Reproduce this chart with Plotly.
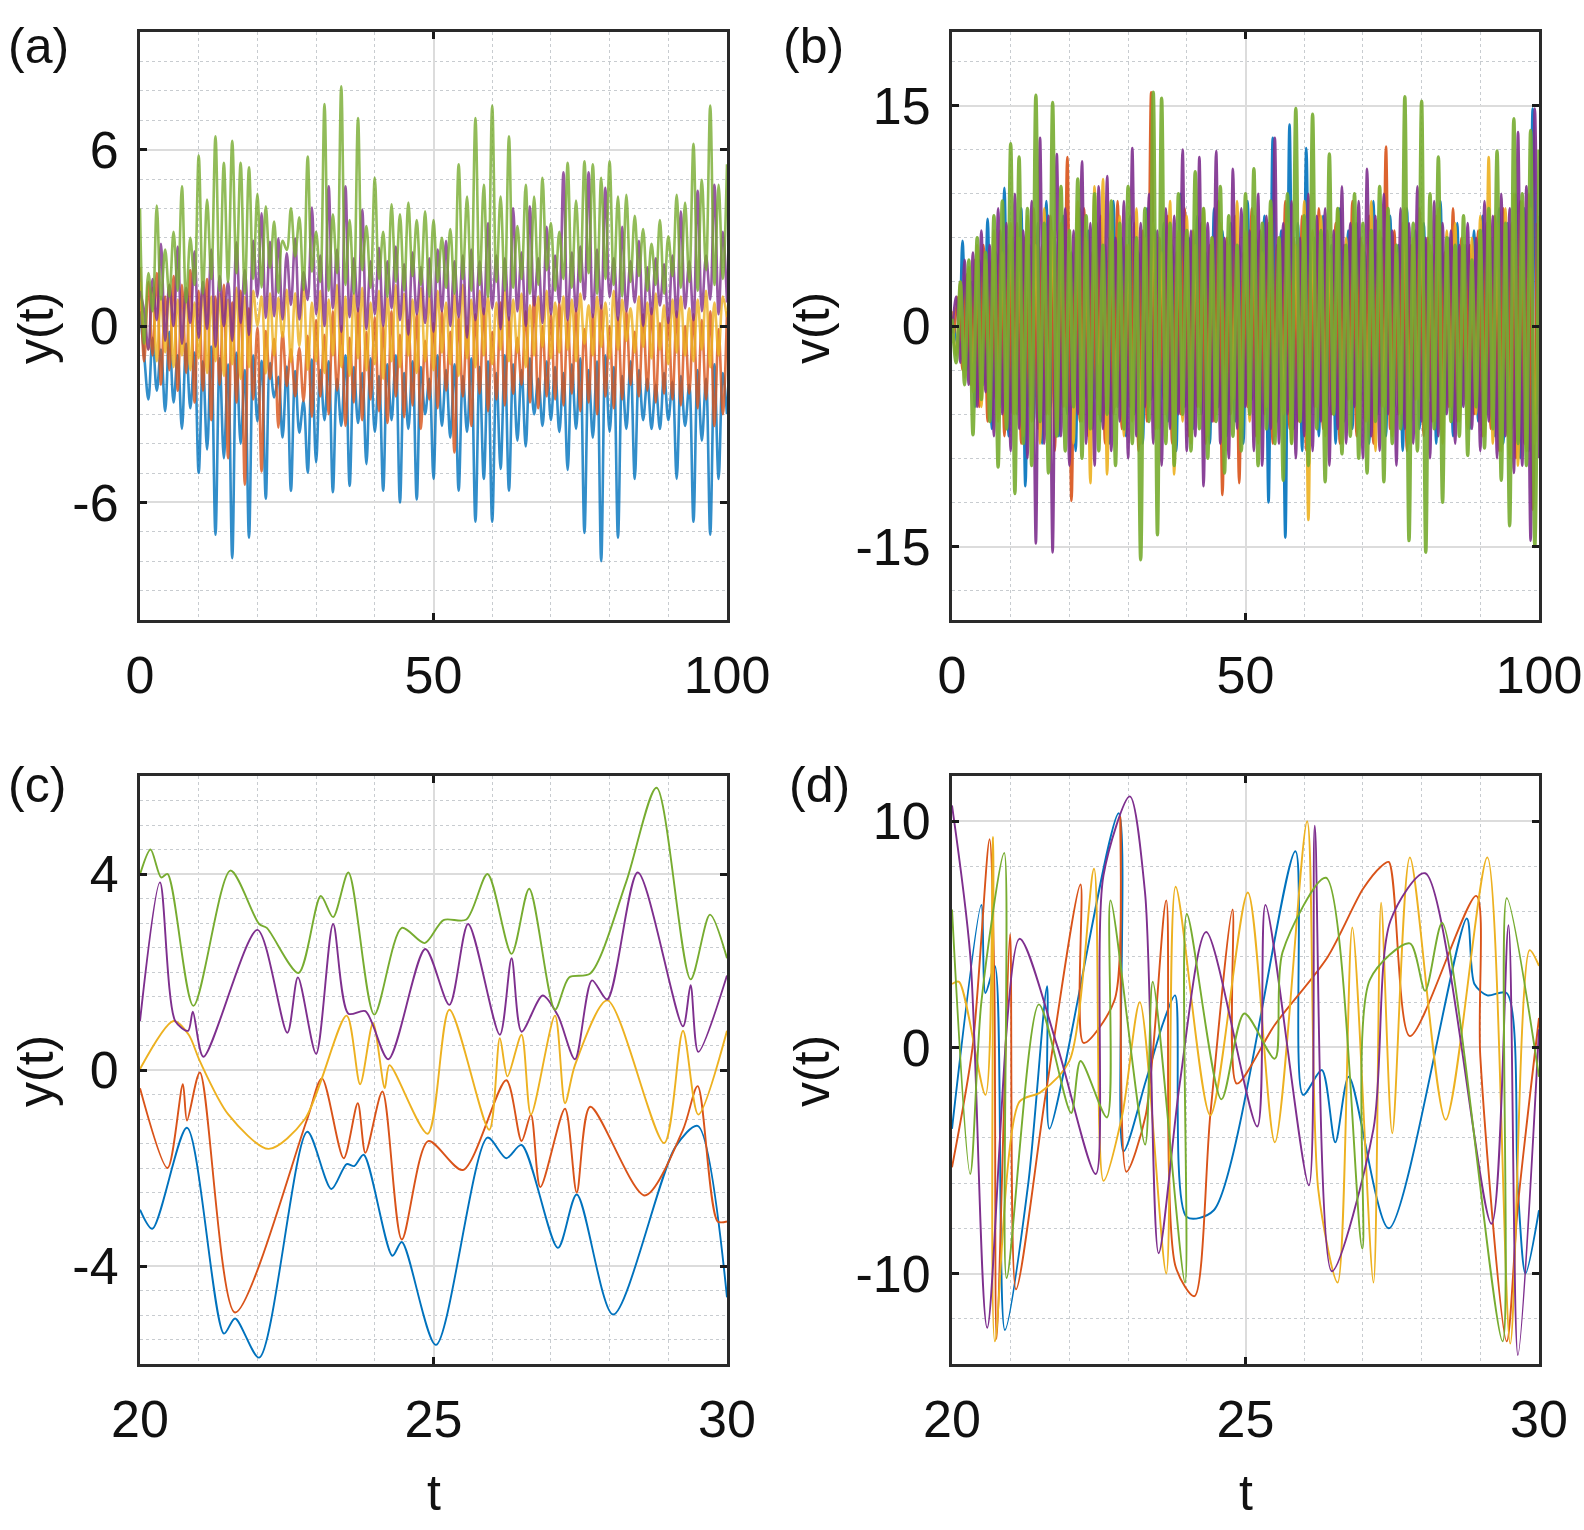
import numpy as np
import plotly.graph_objects as go

# MATLAB default line colours
COLORS = {"blue": "#0072BD", "orange": "#D95319", "yellow": "#EDB120",
          "purple": "#7E2F8E", "green": "#77AC30"}
ORDER = ["blue", "orange", "yellow", "purple", "green"]

# Panels (a) and (b): extrema, one peak/trough pair every ~1.43 time units.
# *_hi / *_lo are the alternating maxima / minima; STEP is the spacing between them.
STEP = 100 / 140

# ---------------- panel (a): y(t) ----------------
green_a_hi = [4.0, 1.8, 4.1, 2.6, 3.2, 4.75, 3.0, 5.8, 4.3, 6.45,
              5.55, 6.3, 5.55, 5.4, 4.5, 4.07, 3.55, 2.9, 4.0, 3.7,
              5.76, 3.2, 7.55, 3.8, 8.15, 3.6, 7.07, 3.4, 5.04, 3.2,
              4.14, 3.8, 4.2, 3.6, 3.9, 3.6, 3.0, 3.3, 5.5, 4.4,
              7.07, 4.8, 7.5, 4.4, 6.45, 3.4, 4.8, 4.4, 5.04, 3.5,
              3.2, 5.55, 4.27, 5.6, 5.5, 5.04, 5.6, 4.4, 4.46, 3.75,
              3.3, 2.8, 3.6, 3.05, 4.46, 4.2, 6.2, 4.97, 7.5, 4.8,
              5.5]
green_a_lo = [-0.6, 0.5, 0.9, 1.0, 1.2, 0.8, 1.4, 1.1, 1.6, 1.2,
              1.5, 1.8, 1.1, 1.6, 1.31, 1.98, 1.13, 2.59, 2.37, 1.23,
              1.85, 1.5, 1.2, 1.8, 1.4, 1.1, 1.9, 1.3, 1.6, 1.0,
              1.5, 1.2, 1.7, 1.4, 1.0, 1.5, 1.3, 1.1, 1.6, 1.2,
              1.4, 1.0, 1.5, 1.2, 1.3, 1.6, 1.1, 1.4, 1.9, 1.2,
              1.6, 1.3, 1.5, 1.8, 1.1, 1.6, 1.4, 1.0, 1.5, 1.7,
              1.2, 1.4, 1.1, 1.7, 1.3, 1.5, 1.2, 1.9, 1.4, 1.6]

purple_a_lo = [1.2, -0.8, 0.2, -0.5, 0.0, -0.6, 0.1, -0.4, -0.1, -0.7,
               0.0, -0.5, 0.1, -0.3, 1.0, 0.27, 0.33, 0.22, 0.72, 0.22,
               0.89, 0.4, 0.0, 0.6, -0.2, 0.3, 0.5, -0.1, 0.4, 0.0,
               0.6, 0.2, -0.3, 0.4, 0.1, -0.2, 0.5, 0.0, 0.3, -0.4,
               0.2, 0.4, 0.6, -0.1, 0.2, 0.5, 0.0, 0.7, 0.1, 0.4,
               0.8, 0.2, 0.5, 0.9, 0.3, 0.6, 1.0, 0.2, 0.5, 0.8,
               0.0, 0.4, 0.7, 0.1, 0.3, 0.6, 0.2, 0.5, 0.9, 0.4,
               0.8]
purple_a_hi = [0.5, 1.6, 2.8, 1.4, 2.7, 1.3, 2.53, 1.5, 2.6, 1.7,
               1.5, 2.85, 1.9, 2.9, 3.83, 2.86, 2.98, 2.47, 2.98, 1.83,
               4.03, 2.4, 4.75, 2.6, 4.75, 2.3, 3.95, 2.2, 2.66, 2.2,
               2.7, 2.1, 2.5, 2.0, 2.3, 2.6, 2.9, 2.2, 2.4, 2.6,
               2.2, 3.5, 2.4, 2.3, 4.0, 2.5, 4.07, 2.3, 3.37, 2.4,
               5.23, 2.5, 2.7, 5.23, 2.6, 4.7, 2.3, 3.37, 2.2, 2.9,
               2.0, 2.3, 2.1, 2.4, 3.9, 2.2, 4.6, 2.4, 4.8, 3.2]

blue_a_lo = [0.5, -2.5, -2.2, -2.9, -2.6, -3.5, -2.8, -5.0, -4.2, -7.1,
             -4.5, -7.9, -4.0, -7.2, -3.24, -5.87, -2.43, -3.79, -5.61, -3.63,
             -4.99, -4.64, -3.2, -5.65, -3.4, -5.44, -3.3, -4.7, -3.6, -5.6,
             -3.2, -6.0, -3.5, -5.9, -3.0, -5.2, -3.4, -3.8, -5.6, -3.6,
             -6.66, -5.2, -6.66, -4.86, -5.6, -3.9, -4.1, -3.0, -3.4, -3.2,
             -3.6, -4.9, -3.5, -7.04, -3.8, -8.0, -3.6, -7.2, -3.5, -5.2,
             -3.2, -3.5, -3.5, -3.2, -5.2, -3.4, -6.66, -3.9, -7.1, -5.2,
             -3.0]
blue_a_hi = [-1.0, -0.4, -0.8, -0.2, -1.0, -0.6, -0.9, -1.2, -0.7, -1.1,
             -1.3, -0.9, -1.5, -1.0, -1.18, -1.26, -1.73, -1.38, -1.53, -2.54,
             -1.14, -1.5, -1.2, -1.8, -1.0, -1.4, -1.6, -1.1, -1.7, -1.3,
             -1.0, -1.6, -1.2, -1.4, -1.8, -1.0, -1.5, -1.3, -1.7, -1.1,
             -1.4, -1.2, -1.6, -1.0, -1.3, -1.5, -1.1, -1.8, -1.2, -1.4,
             -1.6, -1.3, -1.1, -1.5, -1.2, -1.0, -1.4, -1.7, -1.2, -1.5,
             -1.8, -2.0, -1.6, -1.9, -1.7, -2.0, -1.5, -1.8, -1.3, -1.6]

orange_a_hi = [2.0, 1.5, 1.8, 1.0, 1.7, 1.4, 1.9, 1.2, 1.6, 1.0,
               1.4, 0.8, 1.2, 0.6, -0.05, -0.17, -0.44, -0.21, -0.79, -0.75,
               -0.33, 0.2, -0.3, 0.5, 0.0, -0.4, 0.6, -0.2, 0.3, 0.0,
               0.5, -0.3, 0.2, 0.4, -0.5, 0.1, 0.5, -0.2, 0.3, 0.0,
               0.4, 0.6, -0.2, 0.8, 0.3, -0.4, 0.5, 1.0, 0.0, 0.4,
               0.8, 0.2, 0.6, -0.1, 0.4, 0.7, 0.0, 0.3, 0.5, -0.2,
               0.4, 0.6, 0.1, 0.3, 0.5, 0.0, 0.4, 0.2, 0.5, -0.1,
               0.5]
orange_a_lo = [-1.2, -1.0, -2.0, -1.5, -2.2, -1.6, -2.6, -2.2, -3.2, -2.0,
               -4.5, -2.6, -5.4, -2.5, -4.95, -1.8, -3.46, -2.04, -2.39, -2.56,
               -3.09, -2.4, -3.0, -2.2, -3.4, -2.6, -3.2, -2.5, -2.9, -3.3,
               -2.4, -3.1, -2.7, -3.5, -2.5, -2.8, -2.2, -4.3, -2.4, -3.4,
               -2.3, -2.9, -2.5, -2.7, -2.3, -2.0, -2.6, -2.8, -2.4, -2.5,
               -2.7, -2.3, -2.9, -2.6, -3.0, -2.4, -2.8, -2.5, -2.0, -2.4,
               -2.2, -2.6, -2.3, -2.5, -2.7, -2.3, -2.8, -2.5, -3.4, -3.0]

yellow_a_lo = [1.5, -0.8, -1.2, -0.9, -1.4, -1.0, -1.5, -1.1, -1.6, -1.2,
               -1.7, -1.3, -1.8, -1.4, 0.02, -1.61, -1.0, -0.37, -1.22, -0.68,
               -1.49, -1.2, -1.6, -1.0, -1.4, -1.7, -1.1, -1.5, -1.3, -1.8,
               -1.2, -1.4, -1.0, -1.6, -1.2, -1.5, -0.9, -1.3, -1.7, -1.1,
               -1.4, -1.0, -1.3, -0.8, -1.2, -0.9, -1.4, -1.0, -0.7, -1.1,
               -0.9, -0.8, -1.2, -0.6, -1.0, -0.7, -1.1, -0.8, -0.5, -0.9,
               -0.7, -1.1, -0.8, -1.3, -0.9, -1.0, -1.2, -0.8, -1.4, -1.0,
               0.3]
yellow_a_hi = [-0.2, 1.3, 1.0, 1.4, 0.9, 1.2, 0.8, 1.3, 1.0, 1.1,
               0.9, 1.3, 1.0, 1.2, 1.0, 1.11, 0.96, 1.23, 1.11, 1.42,
               0.8, 1.2, 0.9, 1.4, 1.0, 1.1, 1.3, 0.8, 1.2, 1.0,
               1.4, 1.1, 0.9, 1.3, 1.0, 1.2, 0.8, 1.1, 1.4, 0.9,
               1.2, 1.0, 0.8, 1.2, 0.9, 1.1, 0.7, 1.0, 1.2, 0.8,
               1.0, 0.9, 1.1, 0.7, 1.0, 0.8, 1.2, 0.9, 0.6, 1.0,
               0.8, 1.1, 0.7, 0.9, 1.0, 0.6, 0.9, 1.2, 0.8, 1.0]

# ---------------- panel (b): v(t) ----------------
green_b_hi = [0.5, 3.0, 4.5, 6.0, 5.0, 7.5, 8.5, 12.4, 11.5, 8.0,
              15.7, 7.0, 15.2, 9.5, 6.5, 10.0, 7.5, 9.0, 5.5, 8.5,
              7.0, 9.5, 6.0, 8.0, 15.9, 15.5, 7.0, 9.0, 6.5, 10.5,
              8.0, 6.0, 9.5, 7.5, 5.5, 9.0, 10.7, 7.0, 8.5, 6.0,
              9.0, 14.8, 7.5, 14.4, 6.5, 11.7, 8.0, 5.5, 9.0, 7.0,
              6.5, 9.5, 8.0, 5.5, 15.6, 7.0, 15.3, 9.0, 11.5, 6.0,
              5.5, 7.5, 4.5, 6.5, 8.0, 11.9, 7.0, 14.1, 9.0, 13.3,
              12.0]
green_b_lo = [-2.5, -4.0, -7.4, -5.0, -6.5, -9.6, -7.0, -11.4, -8.0, -9.5,
              -6.5, -10.0, -7.5, -8.5, -5.5, -9.0, -7.0, -8.5, -6.0, -9.5,
              -7.0, -8.0, -15.9, -6.5, -14.2, -8.0, -9.5, -6.0, -8.5, -7.0,
              -9.0, -6.5, -10.0, -7.5, -8.5, -6.0, -9.5, -7.0, -8.0, -10.5,
              -8.0, -6.5, -9.5, -7.0, -10.6, -6.0, -8.7, -7.5, -9.0, -10.0,
              -6.5, -10.6, -8.0, -7.0, -14.6, -8.5, -15.4, -7.0, -12.0, -6.5,
              -7.5, -8.8, -5.5, -8.3, -7.0, -10.5, -13.6, -8.0, -9.5, -15.0]

purple_b_lo = [-0.5, -2.5, -4.0, -5.5, -4.5, -7.5, -6.0, -8.5, -7.0, -9.0,
               -14.8, -8.0, -15.4, -7.5, -9.5, -6.0, -8.0, -9.5, -7.0, -8.5,
               -6.5, -9.0, -7.5, -5.5, -8.0, -9.5, -7.0, -6.0, -8.5, -7.5,
               -10.9, -6.5, -8.0, -9.0, -7.0, -5.5, -8.5, -9.5, -7.0, -8.0,
               -6.0, -9.0, -7.5, -8.5, -6.5, -9.5, -7.0, -8.0, -5.5, -9.0,
               -7.5, -8.5, -6.0, -9.5, -7.0, -8.0, -6.5, -9.0, -7.5, -6.0,
               -8.0, -5.5, -7.0, -8.5, -6.5, -9.0, -7.5, -10.0, -9.5, -14.6,
               -9.0]
purple_b_hi = [2.0, 4.5, 5.0, 6.5, 5.5, 8.0, 7.0, 9.0, 6.5, 8.5,
               12.8, 7.5, 11.7, 8.0, 6.5, 11.2, 7.0, 9.5, 10.2, 6.0,
               8.5, 12.1, 7.0, 9.0, 6.5, 8.0, 7.5, 12.0, 6.5, 11.5,
               7.0, 11.9, 6.0, 10.7, 8.0, 6.5, 9.0, 7.5, 12.8, 7.0,
               8.5, 6.0, 9.0, 7.5, 8.0, 6.5, 9.5, 7.0, 8.5, 10.7,
               7.5, 9.0, 6.5, 8.0, 7.0, 9.5, 6.0, 8.5, 7.0, 6.5,
               5.5, 7.0, 6.0, 8.5, 7.5, 9.0, 8.0, 13.2, 9.5, 14.8]

yellow_b_hi = [1.0, 3.0, 4.0, 5.5, 4.5, 6.5, 5.0, 7.0, 6.0, 7.5,
               5.5, 8.0, 6.5, 7.0, 5.0, 8.5, 6.0, 9.5, 10.0, 6.5,
               7.5, 5.5, 8.0, 6.0, 7.0, 5.0, 8.5, 6.5, 7.5, 5.5,
               8.0, 6.0, 7.0, 5.5, 8.5, 6.5, 7.5, 5.0, 8.0, 6.0,
               7.0, 5.5, 8.5, 6.5, 7.5, 5.0, 8.0, 6.0, 7.0, 5.5,
               8.5, 6.5, 7.5, 5.0, 8.0, 6.0, 7.0, 5.5, 8.0, 6.5,
               7.0, 5.5, 6.0, 7.5, 11.5, 7.0, 8.0, 9.0, 8.5, 8.0,
               7.5]
yellow_b_lo = [-2.0, -3.5, -4.5, -5.5, -5.0, -6.5, -7.0, -6.0, -7.5, -6.5,
               -8.0, -6.0, -7.5, -5.5, -8.0, -6.5, -10.7, -6.0, -10.1, -5.5,
               -7.5, -6.5, -8.0, -5.5, -7.0, -6.0, -10.1, -6.5, -8.0, -5.5,
               -7.5, -6.0, -8.5, -5.0, -7.0, -6.5, -8.0, -5.5, -7.5, -6.0,
               -8.0, -6.5, -13.2, -5.5, -7.5, -6.0, -8.0, -5.0, -7.0, -6.5,
               -8.5, -5.5, -7.5, -6.0, -8.0, -5.0, -7.0, -6.5, -8.0, -5.5,
               -6.5, -7.0, -6.0, -7.5, -8.0, -8.5, -9.0, -9.5, -8.5, -8.0]

# blue and orange (b) sit half a step later (t = 0.36, 1.07, ...)
blue_b_hi = [0.0, 5.8, 3.0, 4.5, 7.3, 5.0, 9.4, 6.0, 8.0, 5.5,
             7.0, 8.5, 6.0, 7.5, 5.0, 8.0, 6.5, 7.0, 5.5, 8.5,
             6.0, 7.5, 5.0, 8.0, 6.5, 7.0, 5.5, 9.0, 6.0, 7.5,
             5.0, 8.0, 6.5, 7.0, 5.5, 8.5, 6.0, 7.5, 12.8, 6.5,
             13.7, 7.0, 12.1, 6.0, 7.5, 5.5, 8.0, 6.5, 7.0, 5.0,
             8.5, 6.0, 7.5, 5.5, 8.0, 6.5, 7.0, 5.0, 8.5, 6.0,
             7.0, 5.5, 6.5, 7.5, 6.0, 8.0, 7.0, 9.0, 8.0, 14.8]
blue_b_lo = [-1.5, -3.0, -5.5, -4.0, -7.0, -5.5, -7.5, -6.0, -10.9, -6.5,
             -8.0, -5.5, -7.5, -6.0, -8.5, -5.0, -7.0, -6.5, -8.0, -5.5,
             -7.5, -6.0, -8.0, -5.0, -7.0, -6.5, -8.5, -5.5, -7.0, -6.0,
             -8.0, -5.5, -7.5, -6.5, -8.0, -5.0, -7.0, -12.0, -6.5, -14.4,
             -7.0, -8.5, -6.0, -7.5, -5.5, -8.0, -6.5, -7.0, -5.0, -8.0,
             -6.0, -7.5, -5.5, -8.5, -6.5, -7.0, -5.0, -8.0, -6.0, -7.5,
             -5.5, -7.0, -6.5, -6.0, -7.5, -8.0, -7.0, -9.0, -8.5, -6.0]

orange_b_lo = [-0.5, -3.0, -4.0, -5.5, -6.5, -5.0, -7.5, -6.0, -8.0, -5.5,
               -7.0, -6.0, -8.5, -5.5, -11.9, -6.5, -7.5, -5.0, -8.0, -6.0,
               -7.0, -5.5, -8.5, -6.5, -7.0, -5.0, -8.0, -6.0, -7.5, -5.5,
               -8.0, -6.5, -11.5, -6.0, -10.7, -5.5, -7.5, -6.0, -8.0, -5.0,
               -7.0, -6.5, -8.5, -5.5, -7.0, -6.0, -8.0, -5.0, -7.5, -6.5,
               -8.0, -5.5, -7.0, -6.0, -8.5, -5.0, -7.5, -6.5, -7.0, -5.5,
               -6.5, -5.0, -6.0, -7.5, -7.0, -8.5, -7.5, -9.0, -8.0, -12.5]
orange_b_hi = [2.0, 3.5, 4.5, 5.5, 4.5, 6.5, 5.5, 7.0, 6.0, 8.0,
               5.5, 7.5, 6.5, 11.5, 6.0, 8.0, 5.0, 7.5, 6.0, 8.5,
               5.5, 7.0, 6.5, 15.9, 6.0, 7.5, 5.0, 8.0, 6.5, 7.0,
               5.5, 8.5, 6.0, 7.5, 5.0, 8.0, 6.5, 7.0, 5.5, 8.5,
               6.0, 7.5, 5.0, 8.0, 6.5, 7.0, 5.5, 8.5, 6.0, 7.5,
               5.0, 12.2, 6.5, 7.0, 5.5, 8.0, 6.0, 7.5, 5.0, 8.0,
               6.0, 5.5, 6.5, 7.0, 7.5, 8.0, 7.0, 8.5, 9.0, 7.0]

# ---------------- panel (c): y(t), 20..30 ----------------
blue_c_t = [20.0, 20.21, 20.8, 21.43, 21.62, 22.03, 22.85, 23.26, 23.52, 23.65, 23.81, 24.3,
            24.46, 25.04, 25.92, 26.24, 26.5, 27.12, 27.44, 28.06, 29.12, 29.5, 30.0]
blue_c_v = [-2.85, -3.24, -1.18, -5.38, -5.07, -5.87, -1.26, -2.43, -1.92, -1.96, -1.73, -3.79,
            -3.51, -5.61, -1.38, -1.8, -1.53, -3.63, -2.54, -4.99, -1.57, -1.14, -4.64]
orange_c_t = [20.0, 20.47, 20.73, 20.8, 21.02, 21.62, 22.84, 23.1, 23.47, 23.71, 23.84, 24.13,
              24.46, 24.91, 25.5, 26.24, 26.5, 26.66, 26.82, 27.24, 27.44, 27.67, 28.6, 29.25,
              29.5, 29.84, 30.0]
orange_c_v = [-0.37, -2.0, -0.29, -1.03, -0.05, -4.95, -1.03, -0.17, -1.8, -0.68, -1.69, -0.44,
              -3.46, -1.45, -2.04, -0.21, -1.45, -0.91, -2.39, -0.79, -2.5, -0.75, -2.56, -1.22,
              -0.33, -3.09, -3.09]
yellow_c_t = [20.0, 20.57, 20.83, 21.02, 21.5, 22.19, 22.81, 23.52, 23.75, 23.97, 24.17, 24.25,
              24.9, 25.27, 25.95, 26.13, 26.26, 26.5, 26.66, 27.07, 27.24, 27.41, 27.96, 28.93,
              29.25, 29.51, 30.0]
yellow_c_v = [0.02, 1.0, 0.72, 0.18, -0.9, -1.61, -1.0, 1.11, -0.29, 0.96, -0.37, 0.1,
              -1.3, 1.23, -1.22, 0.65, -0.13, 0.72, -0.91, 1.11, -0.68, 0.1, 1.42, -1.49,
              0.8, -0.91, 0.8]
purple_c_t = [20.0, 20.34, 20.6, 20.82, 20.9, 21.08, 22.0, 22.51, 22.69, 23.0, 23.29, 23.55,
              23.84, 24.23, 24.86, 25.27, 25.59, 26.13, 26.33, 26.5, 26.86, 27.12, 27.41, 27.7,
              27.96, 28.48, 29.25, 29.38, 29.51, 30.0]
purple_c_v = [1.0, 3.83, 1.0, 0.8, 1.19, 0.27, 2.86, 0.76, 1.89, 0.33, 2.98, 1.15,
              1.2, 0.22, 2.47, 1.33, 2.98, 0.72, 2.28, 0.78, 1.52, 1.11, 0.22, 1.83,
              1.44, 4.03, 0.89, 1.73, 0.37, 1.93]
green_c_t = [20.0, 20.18, 20.36, 20.47, 20.91, 21.54, 22.03, 22.16, 22.7, 23.08, 23.29, 23.55,
             23.99, 24.46, 24.85, 25.17, 25.56, 25.92, 26.33, 26.63, 27.07, 27.31, 27.67, 28.28,
             28.8, 29.38, 29.71, 30.0]
green_c_v = [3.99, 4.5, 3.93, 4.0, 1.31, 4.07, 2.98, 2.9, 1.98, 3.55, 3.12, 4.03,
             1.13, 2.9, 2.59, 3.06, 3.07, 4.0, 2.37, 3.7, 1.23, 1.89, 1.97, 3.83,
             5.76, 1.85, 3.17, 2.28]

# ---------------- panel (d): v(t), 20..30 ----------------
blue_d_t = [20.0, 20.5, 20.57, 20.73, 20.9, 21.3, 21.62, 21.66, 22.84, 22.92, 23.3, 23.6, 23.8,
            24.0, 24.46, 25.85, 25.98, 26.3, 26.53, 26.76, 27.44, 28.77, 28.9, 29.12, 29.45,
            29.64, 29.77, 30.0]
blue_d_v = [-3.6, 6.3, 2.4, 3.6, -12.5, -6.0, 2.7, -3.6, 10.35, -4.6, -1.5, 1.1, 2.3,
            -7.5, -7.2, 8.67, -2.1, -1.0, -4.2, -1.3, -8.0, 5.7, 2.8, 2.3, 2.4,
            -6.3, -10.0, -7.2]
orange_d_t = [20.0, 20.35, 20.64, 20.72, 20.76, 20.99, 21.09, 21.6, 22.19, 22.24, 22.77, 22.87,
              22.97, 23.3, 23.65, 23.81, 24.13, 24.4, 24.78, 24.85, 25.5, 26.4, 27.0, 27.31,
              27.44, 27.8, 28.93, 29.0, 29.45, 29.64, 30.0]
orange_d_v = [-5.3, 0.0, 9.2, 3.0, -12.9, 5.0, -10.7, -2.0, 7.2, 0.2, 2.1, 10.2,
              -5.5, -3.0, 6.5, -9.7, -11.0, -3.0, 6.1, -1.6, 1.0, 4.0, 7.0, 8.0,
              8.2, 0.5, 6.7, -0.4, -13.0, -7.0, 1.3]
yellow_d_t = [20.0, 20.12, 20.57, 20.7, 20.73, 21.15, 21.5, 22.0, 22.42, 22.58, 22.9, 23.2,
              23.65, 23.81, 24.4, 25.04, 25.5, 26.05, 26.24, 26.57, 26.82, 27.18, 27.31, 27.5,
              27.8, 28.41, 29.12, 29.51, 29.84, 30.0]
yellow_d_v = [2.8, 2.9, -2.1, 9.3, -13.0, -2.4, -2.0, -0.6, 7.9, -5.9, -3.0, 2.0,
              -10.0, 7.1, -3.0, 6.85, -4.2, 10.0, -6.3, -10.4, 5.3, -10.4, 6.4, -3.8,
              8.4, -3.2, 8.4, -13.1, 4.3, 3.6]
purple_d_t = [20.0, 20.31, 20.6, 21.15, 21.8, 22.45, 22.58, 23.03, 23.29, 23.52, 23.88, 24.33,
              25.2, 25.34, 26.08, 26.18, 26.47, 27.18, 27.47, 28.06, 29.19, 29.48, 29.64, 30.0]
purple_d_v = [10.7, 4.1, -12.4, 4.8, 0.0, -5.6, 7.6, 11.1, 6.8, -9.1, -1.6, 5.1,
              -3.5, 6.3, -6.1, 9.8, -9.9, -3.6, 5.6, 7.7, -7.8, 5.4, -13.6, 0.8]
green_d_t = [20.0, 20.31, 20.5, 20.89, 20.93, 21.48, 22.03, 22.19, 22.64, 22.7, 23.29, 23.42,
             23.97, 24.0, 24.59, 24.98, 25.5, 25.63, 26.37, 26.99, 27.12, 27.8, 28.06, 28.35,
             29.38, 29.45, 30.0]
green_d_v = [6.1, -5.6, 2.0, 8.6, -10.2, 1.9, -2.9, -0.6, -3.1, 6.5, -4.3, 2.9,
             -10.4, 5.9, -2.3, 1.5, -0.5, 4.2, 7.5, -8.9, 3.0, 4.6, 2.5, 5.5,
             -13.0, 6.6, -1.3]


def zigzag(first, second):
    out = []
    for i, v in enumerate(first):
        out.append(v)
        if i < len(second):
            out.append(second[i])
    return out


def time_grid(vals, start=0.0):
    return start + STEP * np.arange(len(vals))


# the page's body margin is removed (post_script below), so the figure fills the window
W, H = 1584, 1530
FONT = "Liberation Sans, Arial, sans-serif"


def px_x(a, b):
    return [a / W, b / W]


def px_y(top, bottom):
    return [1 - bottom / H, 1 - top / H]


def make_axis(domain, rng, tickvals, minor_step, anchor, standoff):
    return dict(
        domain=domain, range=rng, anchor=anchor, automargin=False,
        tickmode="array", tickvals=tickvals, ticktext=[str(v) for v in tickvals],
        showline=True, mirror="ticks", linecolor="#2a2a2a", linewidth=3,
        ticks="inside", ticklen=7, tickwidth=2.5, tickcolor="#1a1a1a",
        showgrid=True, gridcolor="#dcdcdc", gridwidth=2, zeroline=False,
        minor=dict(dtick=minor_step, tick0=0, showgrid=True, griddash="dot",
                   gridcolor="#c8ccd0", gridwidth=1.3, ticks=""),
        tickfont=dict(family=FONT, size=52, color="#111111"),
        ticklabelstandoff=standoff, ticklabeloverflow="allow", fixedrange=True,
    )


fig = go.Figure()

panel_a = {
    "blue": (zigzag(blue_a_lo, blue_a_hi), 0.0),
    "orange": (zigzag(orange_a_hi, orange_a_lo), 0.0),
    "yellow": (zigzag(yellow_a_lo, yellow_a_hi), 0.0),
    "purple": (zigzag(purple_a_lo, purple_a_hi), 0.0),
    "green": (zigzag(green_a_hi, green_a_lo), 0.0),
}
panel_b = {
    "blue": (zigzag(blue_b_hi, blue_b_lo), STEP / 2),
    "orange": (zigzag(orange_b_lo, orange_b_hi), STEP / 2),
    "yellow": (zigzag(yellow_b_hi, yellow_b_lo), 0.0),
    "purple": (zigzag(purple_b_lo, purple_b_hi), 0.0),
    "green": (zigzag(green_b_hi, green_b_lo), 0.0),
}
for panel, xa, ya, alpha in [(panel_a, "x", "y", 0.8), (panel_b, "x2", "y2", 0.9)]:
    for name in ORDER:
        vals, start = panel[name]
        lw = 3.4 if (xa == "x2" and name == "green") else 2.6
        fig.add_trace(go.Scatter(x=time_grid(vals, start), y=vals, mode="lines",
                                 xaxis=xa, yaxis=ya,
                                 line=dict(color=COLORS[name], width=lw, shape="spline"),
                                 opacity=alpha, hoverinfo="skip"))

panel_c = {"blue": (blue_c_t, blue_c_v), "orange": (orange_c_t, orange_c_v),
           "yellow": (yellow_c_t, yellow_c_v), "purple": (purple_c_t, purple_c_v),
           "green": (green_c_t, green_c_v)}
panel_d = {"blue": (blue_d_t, blue_d_v), "orange": (orange_d_t, orange_d_v),
           "yellow": (yellow_d_t, yellow_d_v), "purple": (purple_d_t, purple_d_v),
           "green": (green_d_t, green_d_v)}
for panel, xa, ya in [(panel_c, "x3", "y3"), (panel_d, "x4", "y4")]:
    for name in ORDER:
        t, v = panel[name]
        fig.add_trace(go.Scatter(x=t, y=v, mode="lines", xaxis=xa, yaxis=ya,
                                 line=dict(color=COLORS[name], width=1.9, shape="spline",
                                           smoothing=0.8),
                                 hoverinfo="skip"))

xa_left, xa_right = px_x(140, 727), px_x(952, 1539)
ya_top, ya_bot = px_y(32, 620), px_y(776, 1364)

fig.update_layout(
    width=W, height=H, showlegend=False,
    paper_bgcolor="white", plot_bgcolor="white",
    margin=dict(l=0, r=0, t=0, b=0, autoexpand=False),
    xaxis=make_axis(xa_left, [0, 100], [0, 50, 100], 10, "y", 8),
    yaxis=make_axis(ya_top, [-10, 10], [-6, 0, 6], 1, "x", 8),
    xaxis2=make_axis(xa_right, [0, 100], [0, 50, 100], 10, "y2", 8),
    yaxis2=make_axis(ya_top, [-20, 20], [-15, 0, 15], 3, "x2", 8),
    xaxis3=make_axis(xa_left, [20, 30], [20, 25, 30], 1, "y3", 8),
    yaxis3=make_axis(ya_bot, [-6, 6], [-4, 0, 4], 0.5, "x3", 8),
    xaxis4=make_axis(xa_right, [20, 30], [20, 25, 30], 1, "y4", 8),
    yaxis4=make_axis(ya_bot, [-14, 12], [-10, 0, 10], 2, "x4", 8),
)

# (text, centre x, centre y) in window pixels
labels = [
    ("(a)", 38, 46, 0), ("(b)", 814, 46, 0), ("(c)", 37, 785, 0), ("(d)", 820, 785, 0),
    ("y(t)", 36, 328, -90), ("v(t)", 812, 328, -90),
    ("y(t)", 36, 1071, -90), ("v(t)", 812, 1071, -90),
    ("t", 434, 1493, 0), ("t", 1246, 1493, 0),
]
for text, x, y, ang in labels:
    fig.add_annotation(text=text, x=x / W, y=1 - y / H,
                       xref="paper", yref="paper",
                       showarrow=False, textangle=ang, xanchor="center", yanchor="middle",
                       font=dict(family=FONT, size=50, color="#111111"))

fig.write_html("out.html", config={"displayModeBar": False},
               post_script="document.body.style.margin='0';document.body.style.overflow='hidden';")
